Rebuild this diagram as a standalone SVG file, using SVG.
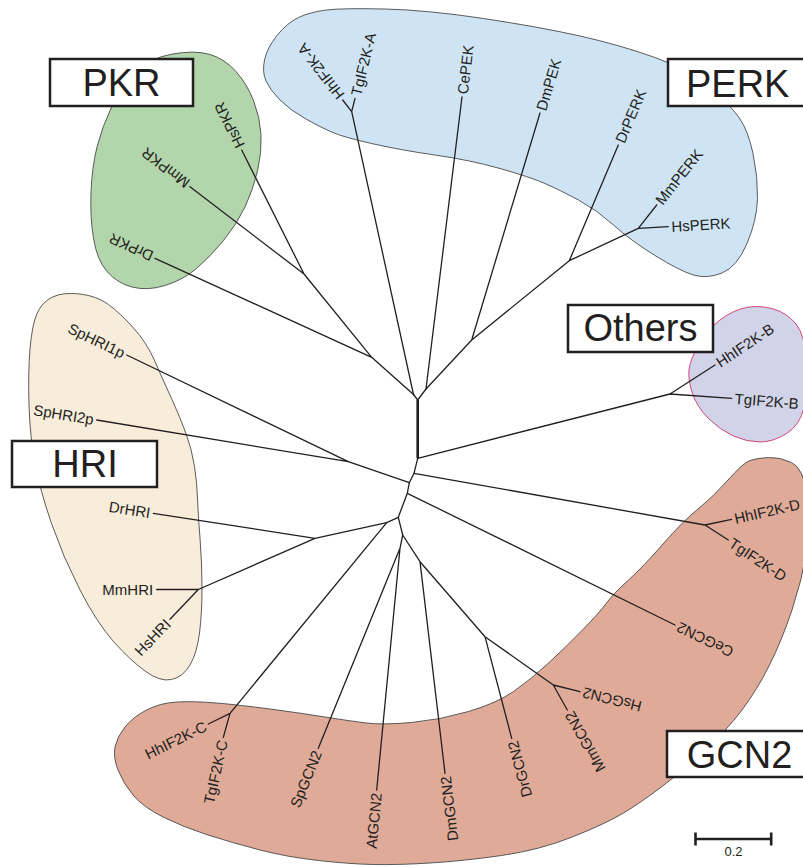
<svg xmlns="http://www.w3.org/2000/svg" width="803" height="867" viewBox="0 0 803 867">
<style>
.blob{stroke:#4a4a4a;stroke-width:0.9}
.e{stroke:#231f20;stroke-width:1.3;fill:none;stroke-linecap:round}
.lab{font-family:"Liberation Sans",Arial,sans-serif;font-size:15px;fill:#231f20}
.s{text-anchor:start}
.en{text-anchor:end}
.box{fill:#fff;stroke:#231f20;stroke-width:2.5}
.big{font-family:"Liberation Sans",Arial,sans-serif;font-size:38px;fill:#231f20;text-anchor:middle}
</style>
<rect width="803" height="867" fill="#fff"/>
<g id="clade-areas">
<path id="area-perk" class="blob" fill="#cee4f4" d="M266,81 Q262,72 264.5,60 Q267,48 277,35.5 Q287,23 298.5,17.5 Q310,12 326.5,10 Q343,8 385,9 Q427,10 483.5,18.5 Q540,27 580,36 Q620,45 655,57.5 Q690,70 710,87.5 Q730,105 739,117.5 Q748,130 753,153.5 Q758,177 757.5,198.5 Q757,220 747,243.5 Q737,267 722,273 Q707,279 693.5,275 Q680,271 655,255.5 Q630,240 613.5,225 Q597,210 578.5,200 Q560,190 545,183.5 Q530,177 500,168.5 Q470,160 435,155 Q400,150 371.5,143.5 Q343,137 331.5,132 Q320,127 305,118.5 Q290,110 280,100 Q270,90 266,81 Z"/>
<path id="area-pkr" class="blob" fill="#b3d5ab" d="M136,71.5 Q150,58 172.5,54 Q195,50 210,54.5 Q225,59 236,71.5 Q247,84 253.5,100.5 Q260,117 261,134.5 Q262,152 257.5,171 Q253,190 245,207 Q237,224 223.5,240.5 Q210,257 196.5,268.5 Q183,280 165,285.5 Q147,291 132,287 Q117,283 107,271.5 Q97,260 93.5,238.5 Q90,217 91,192 Q92,167 97,147 Q102,127 112,106 Q122,85 136,71.5 Z"/>
<path id="area-hri" class="blob" fill="#f8ecda" d="M52.5,297 Q63,292 80,294 Q97,296 108.5,304.5 Q120,313 133.5,328 Q147,343 155,361.5 Q163,380 171.5,398.5 Q180,417 186,433.5 Q192,450 194.5,466.5 Q197,483 197.5,498 Q198,513 200,538 Q202,563 202,588 Q202,613 199.5,633 Q197,653 190,665 Q183,677 171.5,679.5 Q160,682 145,671 Q130,660 113.5,641.5 Q97,623 80,590 Q63,557 51.5,523.5 Q40,490 35,463.5 Q30,437 29,405 Q28,373 30,349 Q32,325 37,313.5 Q42,302 52.5,297 Z"/>
<path id="area-others" fill="#d1d3e8" stroke="#d6457b" stroke-width="1" d="M689,370 Q690,360 698.5,345 Q707,330 720,320 Q733,310 746.5,307.5 Q760,305 773.5,309 Q787,313 796,324 Q805,335 806.5,362.5 Q808,390 804,407.5 Q800,425 786.5,433.5 Q773,442 760,442 Q747,442 733.5,436 Q720,430 708.5,418.5 Q697,407 692.5,393.5 Q688,380 689,370 Z"/>
<path id="area-gcn2" class="blob" fill="#dfab98" d="M768.5,457.5 Q780,457 791.5,462.5 Q803,468 807.5,494 Q812,520 807,550 Q802,580 792,610 Q782,640 769.5,665 Q757,690 742,710 Q727,730 703.5,751.5 Q680,773 660,788 Q640,803 623.5,813 Q607,823 573.5,836.5 Q540,850 501.5,855.5 Q463,861 430,863 Q397,865 373.5,864.5 Q350,864 318.5,860.5 Q287,857 260,850 Q233,843 208,835 Q183,827 163,817 Q143,807 133,795 Q123,783 118,770 Q113,757 115,747 Q117,737 125,727 Q133,717 146.5,710 Q160,703 176.5,702 Q193,701 216.5,703 Q240,705 270,709 Q300,713 325,717 Q350,721 366.5,723 Q383,725 411.5,722.5 Q440,720 468.5,711.5 Q497,703 513.5,691.5 Q530,680 547.5,664 Q565,648 582.5,630 Q600,612 606.5,603 Q613,594 628,580.5 Q643,567 663,544 Q683,521 698,509 Q713,497 728,480 Q743,463 750,460.5 Q757,458 768.5,457.5 Z"/>
</g>
<g id="connectors">
<path class="e" style="stroke-width:2.6;stroke-linecap:butt" d="M417.7,400 L417.7,458.3"/>
<path class="e" d="M417.7,400 L413.5,394.5 M417.7,400 L426,389"/>
<path class="e" d="M413.5,394.5 L351.7,111.7 M351.7,111.7 L342.7,100 M351.7,111.7 L355,98.3"/>
<path class="e" d="M413.5,394.5 L371.7,357.3 M371.7,357.3 L155,258.3 M371.7,357.3 L304,274 M304,274 L241.7,150 M304,274 L190,186.7"/>
<path class="e" d="M426,389 L462,97 M426,389 L471.7,340 M471.7,340 L540,113 M471.7,340 L569.3,260.7 M569.3,260.7 L618.3,145 M569.3,260.7 L638.3,228.3 M638.3,228.3 L656.7,205 M638.3,228.3 L668.3,226.7"/>
<path class="e" d="M417.7,458.3 L670,394 M670,394 L715,365 M670,394 L731.7,398.3"/>
<path class="e" d="M417.7,458.3 L414,473.3 M414,473.3 L705,525 M705,525 L731.7,519.3 M705,525 L728.3,540"/>
<path class="e" d="M414,473.3 L409.3,482.7 M409.3,482.7 L348.3,461.7 M348.3,461.7 L126.7,355 M348.3,461.7 L96.7,420"/>
<path class="e" d="M409.3,482.7 L407.3,493.3 M407.3,493.3 L675,625 M407.3,493.3 L398.3,517.3"/>
<path class="e" d="M398.3,517.3 L386.7,522.7 M386.7,522.7 L315,538.3 M315,538.3 L153.3,513.3 M315,538.3 L198.3,589.5 M198.3,589.5 L156.7,589.5 M198.3,589.5 L170,619.3"/>
<path class="e" d="M386.7,522.7 L230,713.3 M230,713.3 L208.3,724 M230,713.3 L223.3,737.3"/>
<path class="e" d="M398.3,517.3 L402.7,535 M402.7,535 L400,548.3 M400,548.3 L318.3,748.3 M400,548.3 L376.7,790"/>
<path class="e" d="M402.7,535 L420,561.7 M420,561.7 L445,773.3 M420,561.7 L485,636.7 M485,636.7 L511.7,738.3 M485,636.7 L553.3,685 M553.3,685 L580,691.7 M553.3,685 L567.3,710"/>
</g>
<g id="leaves" class="lab">
<g id="HhIF2K-A"><text class="s" dy="0.36em" transform="translate(340.9,97.6) rotate(-127.6)">HhIF2K-A</text></g>
<g id="TgIF2K-A"><text class="s" dy="0.36em" transform="translate(355.7,95.4) rotate(-76.2)">TgIF2K-A</text></g>
<g id="CePEK"><text class="s" dy="0.36em" transform="translate(462.4,94) rotate(-83)">CePEK</text></g>
<g id="DmPEK"><text class="s" dy="0.36em" transform="translate(540.9,110.1) rotate(-73.3)">DmPEK</text></g>
<g id="DrPERK"><text class="s" dy="0.36em" transform="translate(619.5,142.2) rotate(-67)">DrPERK</text></g>
<g id="MmPERK"><text class="s" dy="0.36em" transform="translate(658.6,202.6) rotate(-51.7)">MmPERK</text></g>
<g id="HsPERK"><text class="s" dy="0.36em" transform="translate(671.3,226.5) rotate(-3.5)">HsPERK</text></g>
<g id="HhIF2K-B"><text class="s" dy="0.36em" transform="translate(717.5,363.4) rotate(-33.5)">HhIF2K-B</text></g>
<g id="TgIF2K-B"><text class="s" dy="0.36em" transform="translate(734.7,398.5) rotate(4.5)">TgIF2K-B</text></g>
<g id="HhIF2K-D"><text class="s" dy="0.36em" transform="translate(734.6,518.7) rotate(-13)">HhIF2K-D</text></g>
<g id="TgIF2K-D"><text class="s" dy="0.36em" transform="translate(730.8,541.6) rotate(33.5)">TgIF2K-D</text></g>
<g id="CeGCN2"><text class="en" dy="0.36em" transform="translate(677.7,626.3) rotate(206.2)">CeGCN2</text></g>
<g id="HsGCN2"><text class="en" dy="0.36em" transform="translate(582.9,692.4) rotate(194)">HsGCN2</text></g>
<g id="MmGCN2"><text class="en" dy="0.36em" transform="translate(568.8,712.6) rotate(240.8)">MmGCN2</text></g>
<g id="DrGCN2"><text class="en" dy="0.36em" transform="translate(512.5,741.2) rotate(-104.7)">DrGCN2</text></g>
<g id="DmGCN2"><text class="en" dy="0.36em" transform="translate(445.4,776.3) rotate(-96.7)">DmGCN2</text></g>
<g id="AtGCN2"><text class="en" dy="0.36em" transform="translate(376.4,793) rotate(-84.5)">AtGCN2</text></g>
<g id="SpGCN2"><text class="en" dy="0.36em" transform="translate(317.2,751.1) rotate(-67.8)">SpGCN2</text></g>
<g id="TgIF2K-C"><text class="en" dy="0.36em" transform="translate(222.6,740.2) rotate(-77.4)">TgIF2K-C</text></g>
<g id="HhIF2K-C"><text class="en" dy="0.36em" transform="translate(205.6,725.3) rotate(-26.3)">HhIF2K-C</text></g>
<g id="HsHRI"><text class="en" dy="0.36em" transform="translate(167.9,621.5) rotate(-46)">HsHRI</text></g>
<g id="MmHRI"><text class="en" dy="0.36em" transform="translate(153.2,589.5)">MmHRI</text></g>
<g id="DrHRI"><text class="en" dy="0.36em" transform="translate(150.3,512.8) rotate(8.8)">DrHRI</text></g>
<g id="SpHRI2p"><text class="en" dy="0.36em" transform="translate(93.7,419.5) rotate(9.4)">SpHRI2p</text></g>
<g id="SpHRI1p"><text class="en" dy="0.36em" transform="translate(124,353.7) rotate(25.7)">SpHRI1p</text></g>
<g id="DrPKR"><text class="s" dy="0.36em" transform="translate(152.3,257) rotate(-155.4)">DrPKR</text></g>
<g id="MmPKR"><text class="s" dy="0.36em" transform="translate(187.6,184.9) rotate(-142.6)">MmPKR</text></g>
<g id="HsPKR"><text class="s" dy="0.36em" transform="translate(240.4,147.3) rotate(-116.7)">HsPKR</text></g>
</g>
<g id="box-pkr"><rect class="box" x="50" y="59" width="143" height="47"/><text class="big" x="121.5" y="96">PKR</text></g>
<g id="box-perk"><rect class="box" x="668" y="59" width="137" height="47"/><text class="big" x="737.7" y="96.5">PERK</text></g>
<g id="box-others"><rect class="box" x="568" y="305" width="145" height="47"/><text class="big" x="640.5" y="341">Others</text></g>
<g id="box-hri"><rect class="box" x="12" y="441" width="145" height="46"/><text class="big" x="85" y="477">HRI</text></g>
<g id="box-gcn2"><rect class="box" x="667" y="731" width="138" height="46"/><text class="big" x="739.5" y="768">GCN2</text></g>
<g id="scale-bar">
<path d="M695,839 L771.7,839 M695.5,832.5 L695.5,845.5 M771.2,832.5 L771.2,845.5" stroke="#231f20" stroke-width="2.6" fill="none"/>
<text x="733.5" y="855.5" font-family="'Liberation Sans',Arial,sans-serif" font-size="13" fill="#231f20" text-anchor="middle">0.2</text>
</g>
</svg>
